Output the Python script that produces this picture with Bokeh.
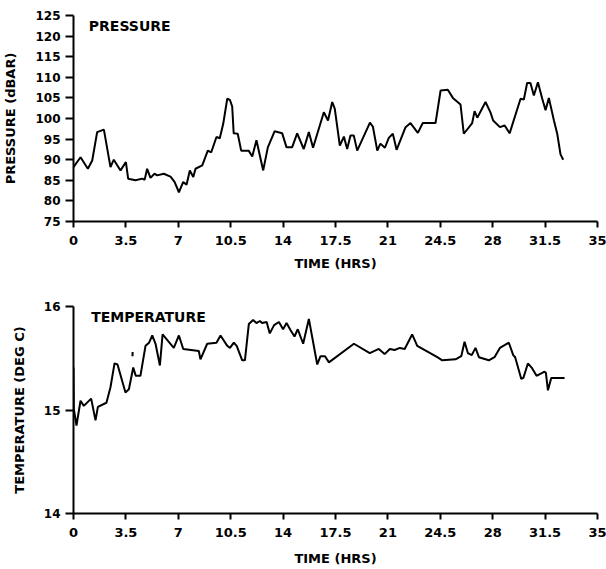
from bokeh.plotting import figure
from bokeh.layouts import column
from bokeh.models import FixedTicker, Label
from bokeh.embed import file_html
from bokeh.resources import INLINE

# ---------------- data ----------------
x_ticks = [0, 3.5, 7, 10.5, 14, 17.5, 21, 24.5, 28, 31.5, 35]
x_tick_labels = ["0", "3.5", "7", "10.5", "14", "17.5", "21", "24.5", "28", "31.5", "35"]
p_ticks = [75, 80, 85, 90, 95, 100, 105, 110, 115, 120, 125]
t_ticks = [14, 15, 16]

pres_time = [0, 0.47, 0.96, 1.25, 1.58, 2.03, 2.47, 2.69, 3.14, 3.5, 3.65, 4.14, 4.6, 4.75, 4.92,
             5.14, 5.41, 5.59, 6.03, 6.48, 6.75, 7.04, 7.33, 7.55, 7.77, 8.0, 8.15, 8.6, 8.97, 9.2,
             9.55, 9.77, 10.0, 10.27, 10.45, 10.6, 10.7, 10.97, 11.2, 11.7, 11.94, 12.22, 12.67,
             12.98, 13.43, 13.94, 14.23, 14.6, 14.94, 15.38, 15.72, 16.0, 16.72, 17.0, 17.28, 17.45,
             17.79, 18.06, 18.28, 18.5, 18.72, 18.95, 19.8, 20.0, 20.29, 20.5, 20.8, 21.06, 21.33,
             21.58, 22.18, 22.51, 23.0, 23.33, 24.18, 24.52, 25.0, 25.34, 25.85, 26.07, 26.63,
             26.79, 26.97, 27.52, 27.85, 28.03, 28.48, 28.8, 29.13, 29.86, 30.08, 30.3, 30.52,
             30.75, 31.02, 31.31, 31.53, 31.75, 32.09, 32.31, 32.53, 32.71]
pres_value = [88.2, 90.6, 87.8, 89.8, 96.7, 97.3, 88.2, 90.0, 87.4, 89.4, 85.4, 85.0, 85.4, 85.1, 87.8,
              85.6, 86.6, 86.2, 86.6, 85.9, 84.6, 82.1, 84.6, 83.9, 87.4, 85.8, 87.8, 88.6, 92.2, 91.8,
              95.5, 95.2, 98.7, 104.8, 104.5, 102.9, 96.4, 96.3, 92.2, 92.2, 90.8, 94.7, 87.4,
              93.0, 96.9, 96.4, 93.0, 93.0, 96.4, 92.6, 96.7, 92.9, 101.5, 99.5, 104.0, 102.4,
              93.4, 95.6, 92.6, 95.9, 95.9, 92.2, 99.0, 98.0, 92.2, 93.9, 92.9, 95.3, 96.3,
              92.4, 97.9, 98.9, 96.5, 98.9, 98.9, 106.8, 107.0, 105.0, 103.4, 96.3, 98.9,
              101.8, 100.2, 104.0, 101.5, 99.5, 97.9, 98.3, 96.4, 104.8, 104.6, 108.6, 108.6,
              105.6, 108.8, 104.8, 102.0, 105.0, 99.5, 96.3, 91.3, 90.0]

temp_time = [0, 0.02, 0.2, 0.47, 0.69, 1.18, 1.47, 1.63, 2.2, 2.47, 2.74, 2.94, 3.47, 3.7, 3.99,
             4.16, 4.47, 4.81, 5.05, 5.26, 5.48, 5.77, 5.95, 6.70, 7.04, 7.33, 8.37, 8.48, 8.93,
             9.55, 9.82, 10.27, 10.45, 10.71, 10.9, 11.27, 11.45, 11.71, 12.0, 12.22, 12.45, 12.6,
             12.9, 13.11, 13.4, 13.72, 14.0, 14.23, 14.5, 14.76, 14.98, 15.34, 15.72, 16.28, 16.5,
             16.8, 17.06, 18.73, 19.79, 20.39, 20.78, 21.13, 21.45, 21.8, 22.12, 22.62, 22.96,
             24.3, 24.63, 25.52, 25.9, 26.12, 26.34, 26.6, 26.85, 27.08, 27.74, 28.12, 28.48,
             29.08, 29.37, 29.5, 29.91, 30.05, 30.35, 30.6, 30.93, 31.46, 31.55, 31.69, 31.91, 32.8]
temp_value = [15.41, 15.01, 14.85, 15.09, 15.04, 15.11, 14.90, 15.03, 15.07, 15.22, 15.45, 15.44,
              15.17, 15.20, 15.41, 15.33, 15.33, 15.62, 15.65, 15.72, 15.64, 15.43, 15.73, 15.60,
              15.72, 15.59, 15.57, 15.49, 15.64, 15.65, 15.72, 15.62, 15.60, 15.65, 15.62, 15.48,
              15.48, 15.83, 15.87, 15.84, 15.86, 15.84, 15.85, 15.74, 15.82, 15.85, 15.78, 15.84,
              15.77, 15.71, 15.78, 15.64, 15.88, 15.44, 15.52, 15.52, 15.46, 15.64, 15.55, 15.59,
              15.54, 15.59, 15.58, 15.60, 15.59, 15.73, 15.62, 15.51, 15.48, 15.49, 15.52, 15.66,
              15.55, 15.53, 15.60, 15.51, 15.48, 15.51, 15.60, 15.65, 15.53, 15.51, 15.30, 15.31,
              15.45, 15.41, 15.33, 15.37, 15.36, 15.19, 15.31, 15.31]
temp_blip_time = [3.94, 3.95]
temp_blip_value = [15.52, 15.56]

FONT = "DejaVu Sans"


def style(p, y_ticks, x_std):
    p.xaxis.ticker = FixedTicker(ticks=x_ticks)
    p.xaxis.major_label_overrides = {t: l for t, l in zip(x_ticks, x_tick_labels)}
    p.yaxis.ticker = FixedTicker(ticks=y_ticks)
    for ax in (p.xaxis, p.yaxis):
        ax.axis_line_width = 2
        ax.axis_line_color = "black"
        ax.major_tick_line_width = 2
        ax.major_tick_line_color = "black"
        ax.major_tick_in = 0
        ax.minor_tick_line_color = None
        ax.major_label_text_font = FONT
        ax.major_label_text_font_style = "bold"
        ax.major_label_text_color = "black"
        ax.axis_label_text_font = FONT
        ax.axis_label_text_font_style = "bold"
        ax.axis_label_text_font_size = "13px"
        ax.axis_label_text_color = "black"
    p.xaxis.major_tick_out = 6
    p.yaxis.major_tick_out = 8
    p.xaxis.major_label_text_font_size = "13px"
    p.yaxis.major_label_text_font_size = "12px"
    p.xaxis.major_label_standoff = 8
    p.yaxis.major_label_standoff = 5
    p.xaxis.axis_label_standoff = x_std
    p.yaxis.axis_label_standoff = 14
    p.xgrid.grid_line_color = None
    p.ygrid.grid_line_color = None
    p.outline_line_color = None
    p.background_fill_color = "white"
    p.border_fill_color = "white"


p1 = figure(width=606, height=290, x_range=(0, 35), y_range=(75, 125),
            output_backend="svg", toolbar_location=None,
            min_border_left=73, min_border_right=9, min_border_top=15, min_border_bottom=69,
            x_axis_label="TIME (HRS)", y_axis_label="PRESSURE (dBAR)")
style(p1, p_ticks, 8)
p1.line(pres_time, pres_value, line_color="black", line_width=2)
p1.add_layout(Label(x=1.02, y=122.4, text="PRESSURE", text_font=FONT, text_font_style="bold",
                    text_font_size="14px", text_color="black", text_baseline="alphabetic"))

p2 = figure(width=606, height=279, x_range=(0, 35), y_range=(14, 16),
            output_backend="svg", toolbar_location=None,
            min_border_left=73, min_border_right=9, min_border_top=16, min_border_bottom=56,
            x_axis_label="TIME (HRS)", y_axis_label="TEMPERATURE (DEG C)")
style(p2, t_ticks, 11)
p2.line(temp_time, temp_value, line_color="black", line_width=2)
p2.line(temp_blip_time, temp_blip_value, line_color="black", line_width=2)
p2.add_layout(Label(x=1.18, y=15.903, text="TEMPERATURE", text_font=FONT, text_font_style="bold",
                    text_font_size="14px", text_color="black", text_baseline="alphabetic"))

layout = column(p1, p2, spacing=0)
open("out.html", "w").write(file_html(layout, INLINE))
